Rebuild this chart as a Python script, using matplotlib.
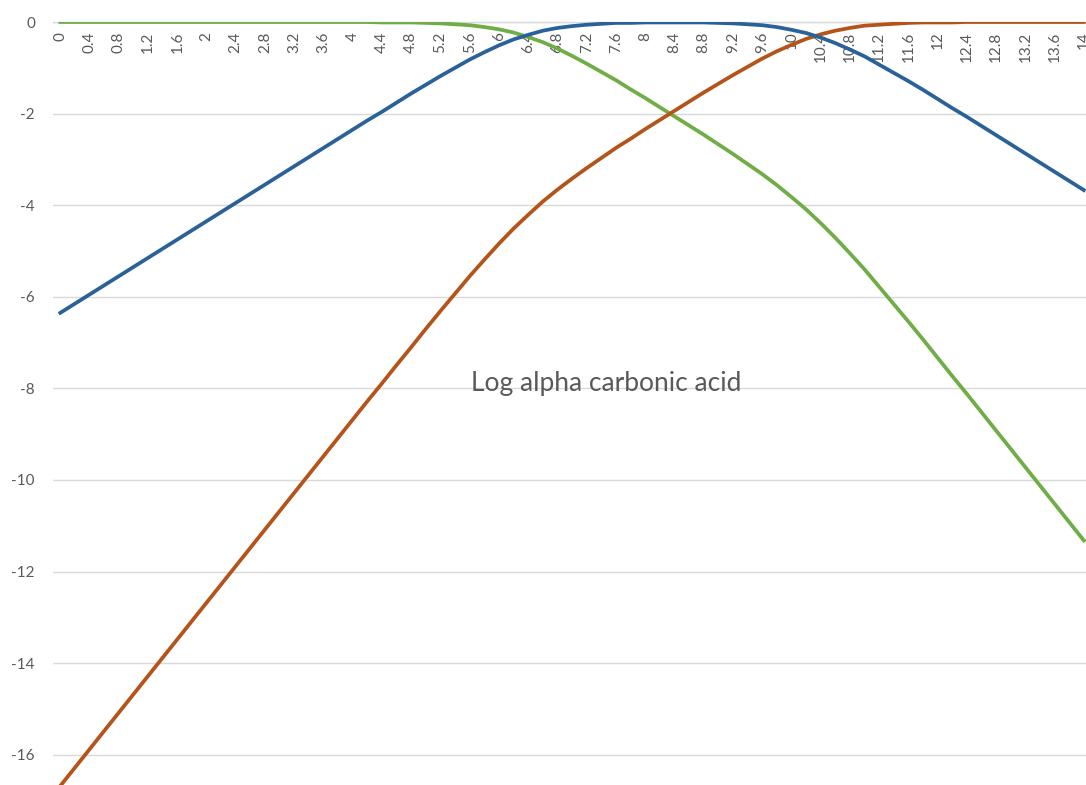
import matplotlib.pyplot as plt
import numpy as np

# pH values, 0.2 steps
ph = [round(0.2 * i, 1) for i in range(71)]

# log alpha values
h2co3 = [0.00, 0.00, 0.00, 0.00, 0.00, 0.00, 0.00, 0.00, 0.00, 0.00,
         0.00, 0.00, 0.00, 0.00, 0.00, 0.00, 0.00, 0.00, 0.00, 0.00,
         0.00, 0.00, -0.01, -0.01, -0.01, -0.02, -0.03, -0.05, -0.07, -0.11,
         -0.16, -0.23, -0.33, -0.44, -0.58, -0.74, -0.91, -1.09, -1.27, -1.47,
         -1.66, -1.86, -2.06, -2.26, -2.46, -2.67, -2.88, -3.10, -3.32, -3.56,
         -3.82, -4.09, -4.39, -4.71, -5.05, -5.40, -5.78, -6.16, -6.54, -6.93,
         -7.33, -7.73, -8.12, -8.52, -8.92, -9.32, -9.72, -10.12, -10.52, -10.92,
         -11.32]
hco3 = [-6.35, -6.15, -5.95, -5.75, -5.55, -5.35, -5.15, -4.95, -4.75, -4.55,
        -4.35, -4.15, -3.95, -3.75, -3.55, -3.35, -3.15, -2.95, -2.75, -2.55,
        -2.35, -2.15, -1.96, -1.76, -1.56, -1.37, -1.18, -1.00, -0.82, -0.66,
        -0.51, -0.38, -0.28, -0.19, -0.13, -0.09, -0.06, -0.04, -0.02, -0.02,
        -0.01, -0.01, -0.01, -0.01, -0.01, -0.02, -0.03, -0.05, -0.07, -0.11,
        -0.17, -0.24, -0.34, -0.46, -0.60, -0.75, -0.93, -1.11, -1.29, -1.48,
        -1.68, -1.88, -2.07, -2.27, -2.47, -2.67, -2.87, -3.07, -3.27, -3.47,
        -3.67]
co3 = [-16.68, -16.28, -15.88, -15.48, -15.08, -14.68, -14.28, -13.88, -13.48, -13.08,
       -12.68, -12.28, -11.88, -11.48, -11.08, -10.68, -10.28, -9.88, -9.48, -9.08,
       -8.68, -8.28, -7.89, -7.49, -7.10, -6.70, -6.31, -5.93, -5.55, -5.19,
       -4.84, -4.51, -4.21, -3.92, -3.66, -3.42, -3.19, -2.97, -2.75, -2.55,
       -2.34, -2.14, -1.94, -1.74, -1.54, -1.35, -1.16, -0.98, -0.80, -0.64,
       -0.50, -0.37, -0.27, -0.19, -0.13, -0.08, -0.06, -0.04, -0.02, -0.01,
       -0.01, -0.01, 0.00, 0.00, 0.00, 0.00, 0.00, 0.00, 0.00, 0.00,
       0.00]

xtick_vals = [round(0.4 * i, 1) for i in range(36)]
xtick_labels = ['%g' % v for v in xtick_vals]
ytick_vals = [0, -2, -4, -6, -8, -10, -12, -14, -16]

plt.rcParams['font.family'] = ['Lato', 'DejaVu Sans']
grey = '#595959'

fig = plt.figure(figsize=(10.86, 7.85), dpi=100)
W, H = 1086, 785
ax = fig.add_axes([53 / W, 0, 1 - 53 / W, (H - 22) / H])

ax.plot(ph, h2co3, color='#70AD47', lw=2.7, zorder=3)
ax.plot(ph, hco3, color='#2B6199', lw=2.7, zorder=4)
ax.plot(ph, co3, color='#B5541A', lw=2.7, zorder=3)

ax.set_xlim(-0.1, 14.03)
ax.set_ylim(-16.66, 0)

ax.set_yticks(ytick_vals)
ax.set_yticklabels([str(v) for v in ytick_vals])
ax.yaxis.grid(True, color='#D9D9D9', lw=1)
ax.tick_params(axis='y', length=0, pad=13, labelsize=11, labelcolor=grey)

ax.set_xticks(xtick_vals)
ax.set_xticklabels(xtick_labels)
ax.tick_params(axis='x', length=0, bottom=False, top=False,
               labelbottom=False, labeltop=True, pad=-7,
               labelsize=11, labelcolor=grey, labelrotation=90)
for t in ax.xaxis.get_major_ticks():
    t.label2.set_verticalalignment('top')

for s in ['left', 'right', 'bottom']:
    ax.spines[s].set_visible(False)
ax.spines['top'].set_color('#D9D9D9')
ax.spines['top'].set_linewidth(1)

ax.text(7.46, -7.9, 'Log alpha carbonic acid', ha='center', va='center',
        fontsize=19, color=grey)

fig.savefig('out.png', dpi=100)
